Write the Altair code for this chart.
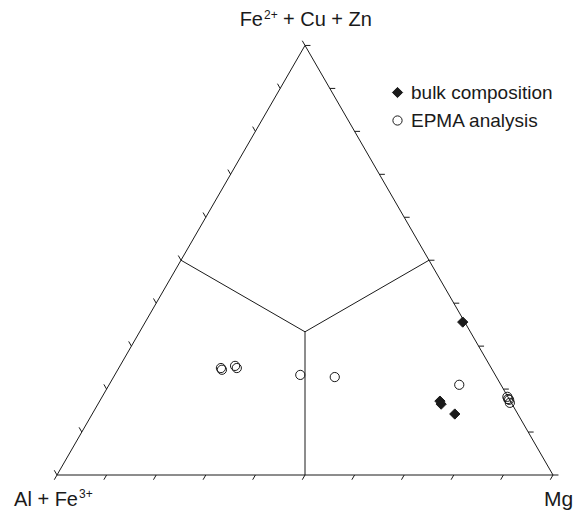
import altair as alt
import pandas as pd
import numpy as np

# ---- data (ternary percentages) ----
# bulk composition (filled diamonds)
bulk_mg = [64.0, 68.6, 69.2, 73.1]
bulk_fe = [35.6, 17.2, 16.5, 14.2]
# EPMA analysis (open circles)
epma_mg = [20.6, 21.0, 23.2, 23.8, 37.4, 44.6, 70.6, 81.7, 82.1, 82.4, 82.9]
epma_fe = [24.9, 24.5, 25.4, 24.9, 23.3, 22.8, 21.0, 18.2, 17.7, 17.5, 16.8]

series_names = ["bulk composition", "EPMA analysis"]
apex_labels = ["Al + Fe", "3+", "Mg", "Fe", "2+", "+ Cu + Zn"]

S3 = np.sqrt(3) / 2


def tern(mg, fe):
    # Mg at bottom-right, Fe2+ + Cu + Zn at top, Al + Fe3+ at bottom-left
    b = np.asarray(mg, float) / 100.0
    c = np.asarray(fe, float) / 100.0
    return b + c / 2, c * S3


# points
bx, by = tern(bulk_mg, bulk_fe)
ex, ey = tern(epma_mg, epma_fe)
pts = pd.DataFrame({
    "x": np.concatenate([bx, ex]),
    "y": np.concatenate([by, ey]),
    "series": [series_names[0]] * len(bx) + [series_names[1]] * len(ex),
})

# frame segments: triangle, centroid lines, ticks
A = (0.0, 0.0)
B = (1.0, 0.0)
C = (0.5, S3)
G = (0.5, S3 / 3)
mid = lambda p, q: ((p[0] + q[0]) / 2, (p[1] + q[1]) / 2)
segs = [
    (A, B), (B, C), (C, A),
    (G, mid(A, C)), (G, mid(B, C)), (G, mid(A, B)),
]
L = 0.011
for k in range(11):
    t = k / 10
    # bottom edge: ticks down-left
    p = (A[0] + t * (B[0] - A[0]), 0.0)
    segs.append((p, (p[0] - 0.5 * L, p[1] - S3 * L)))
    # left edge: ticks up-left
    p = (A[0] + t * (C[0] - A[0]), A[1] + t * (C[1] - A[1]))
    segs.append((p, (p[0] - 0.5 * L, p[1] + S3 * L)))
    # right edge: ticks to the right
    p = (B[0] + t * (C[0] - B[0]), B[1] + t * (C[1] - B[1]))
    segs.append((p, (p[0] + L, p[1])))
lines = pd.DataFrame({
    "x": [s[0][0] for s in segs], "y": [s[0][1] for s in segs],
    "x2": [s[1][0] for s in segs], "y2": [s[1][1] for s in segs],
})

W, H = 569, 504
xs = alt.Scale(domain=[-49 / 496, -49 / 496 + W / 496], nice=False, zero=False)
ys = alt.Scale(domain=[-(29 + H - 496) / 496, -(29 + H - 496) / 496 + H / 496], nice=False, zero=False)

rules = alt.Chart(lines).mark_rule(color="#1a1a1a", strokeWidth=1).encode(
    x=alt.X("x:Q", scale=xs, axis=None),
    y=alt.Y("y:Q", scale=ys, axis=None),
    x2="x2:Q", y2="y2:Q",
)

leg = alt.Legend(title=None, orient="none", legendX=380, legendY=75,
                 labelFontSize=19, labelFont="Liberation Sans",
                 labelColor="#1a1a1a", rowPadding=8, labelOffset=4,
                 symbolStrokeWidth=1)

points = alt.Chart(pts).mark_point(strokeWidth=1, opacity=1, filled=False).encode(
    x=alt.X("x:Q", scale=xs, axis=None),
    y=alt.Y("y:Q", scale=ys, axis=None),
    shape=alt.Shape("series:N", scale=alt.Scale(domain=series_names, range=["diamond", "circle"]), legend=leg),
    fill=alt.Fill("series:N", scale=alt.Scale(domain=series_names, range=["#1a1a1a", "transparent"]), legend=leg),
    stroke=alt.Stroke("series:N", scale=alt.Scale(domain=series_names, range=["#1a1a1a", "#1a1a1a"]), legend=leg),
    size=alt.Size("series:N", scale=alt.Scale(domain=series_names, range=[105, 85]), legend=leg),
)

lab = pd.DataFrame({
    "x": [0.0, 0.0, 1.0, 0.5, 0.5, 0.5],
    "y": [0.0, 0.0, 0.0, S3, S3, S3],
    "text": apex_labels,
    "size": [20, 12, 21, 20, 12, 20],
    "dx": [21, 22, -9, -42, -41, -22],
    "dy": [31, 23, 31, -19, -26, -19],
    "align": ["right", "left", "left", "right", "left", "left"],
})

texts = []
for _, r in lab.iterrows():
    texts.append(
        alt.Chart(lab[lab["text"] == r["text"]]).mark_text(
            font="Liberation Sans", fontSize=int(r["size"]), color="#1a1a1a",
            align=r["align"], baseline="alphabetic", dx=int(r["dx"]), dy=int(r["dy"]),
        ).encode(
            x=alt.X("x:Q", scale=xs, axis=None),
            y=alt.Y("y:Q", scale=ys, axis=None),
            text="text:N",
        )
    )

chart = alt.layer(rules, points, *texts).properties(
    width=W, height=H, autosize=alt.AutoSizeParams(type="none"), padding=0,
).configure_view(stroke=None)

chart.save("out.html", embed_options={"renderer": "svg", "actions": False})
